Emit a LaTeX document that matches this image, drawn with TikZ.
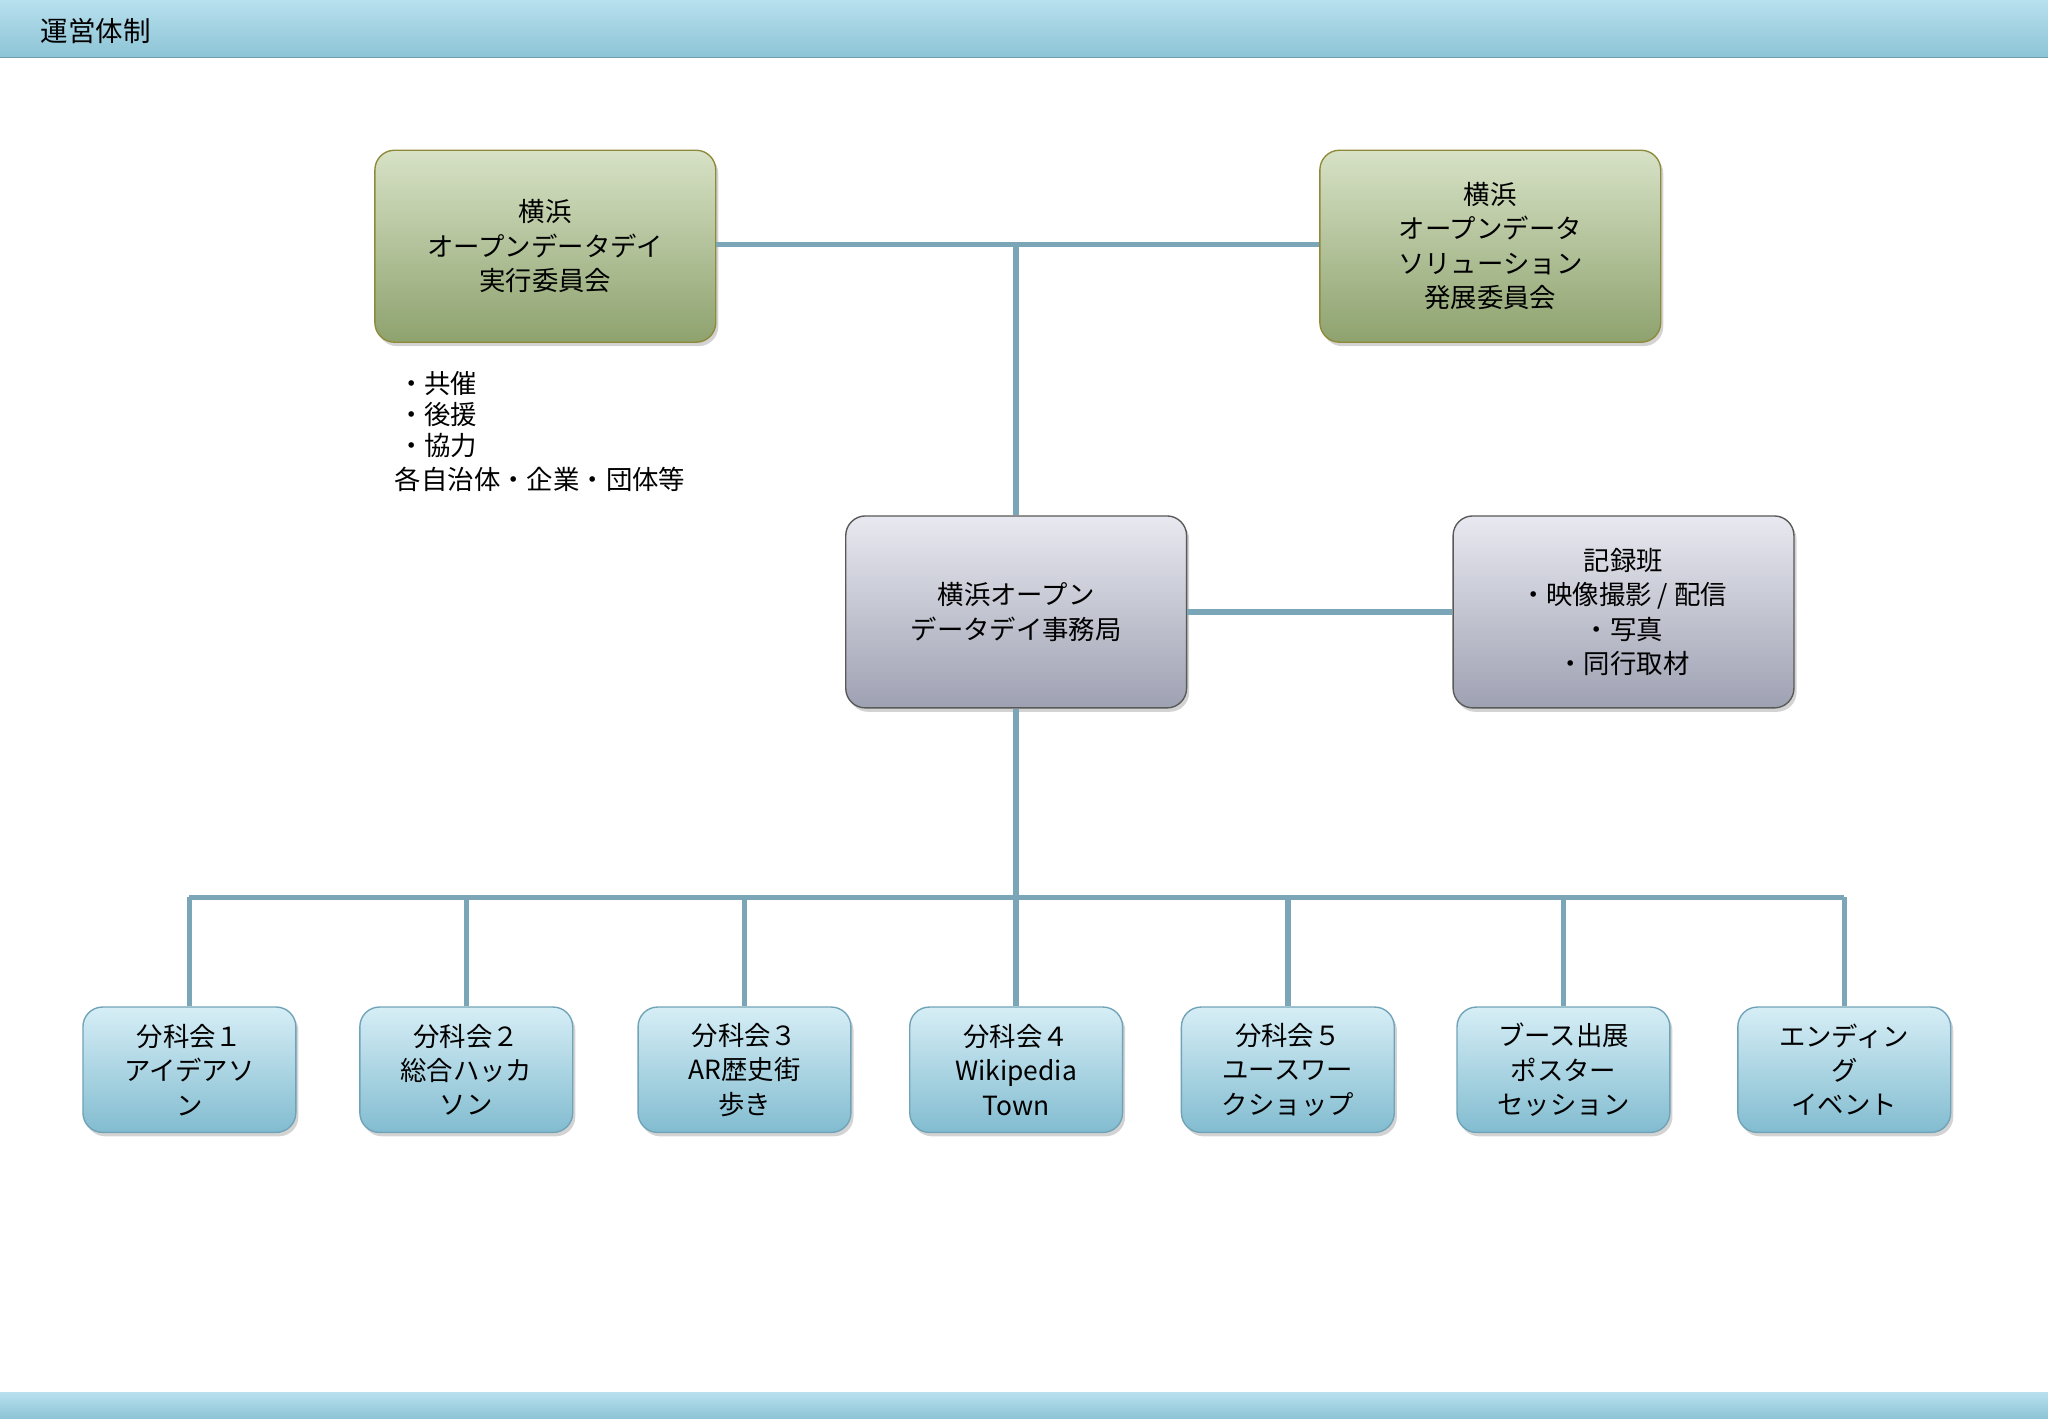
\documentclass[tikz,border=0pt]{standalone}
\usepackage{fontspec}
\setmainfont{Noto Sans CJK JP}
\usetikzlibrary{shadows,calc}
\definecolor{ln}{HTML}{7AA6B8}
\definecolor{barT}{HTML}{B8E0EE}
\definecolor{barB}{HTML}{8CC4D6}
\tikzset{
 x=0.02cm,y=-0.02cm,
 box/.style={draw=#1!70!black, line width=0.6pt, rounded corners=0.3cm, align=center, inner sep=0pt,
   font=\fontsize{11.5}{15}\selectfont, drop shadow={shadow xshift=0.04cm,shadow yshift=-0.06cm,opacity=0.35}},
 gbox/.style={box=gray, top color=green!2!white!85!olive!30, bottom color=olive!60!green!40!gray!90,
   minimum width=5.22cm, minimum height=2.94cm, draw=olive!60!gray},
 ybox/.style={box=gray, top color=gray!10, bottom color=gray!70!blue!60, minimum width=5.22cm, minimum height=2.94cm},
 bbox/.style={box=cyan, top color=cyan!10!white, bottom color=cyan!50!gray!70, minimum width=3.26cm, minimum height=1.92cm, draw=cyan!40!gray},
 con/.style={draw=ln, line width=2.4pt},
}
\begin{document}
\begin{tikzpicture}
\useasboundingbox (0,0) rectangle (1568,1086);
\shade[top color=barT,bottom color=barB] (0,0) rectangle (1568,44);
\draw[barB!80!black,line width=0.5pt] (0,44)--(1568,44);
\node[anchor=west,font=\fontsize{12}{14}\selectfont] (title) at (25,24) {運営体制};
\shade[top color=barT,bottom color=barB] (0,1066) rectangle (1568,1086);

\node[gbox,top color={rgb,255:red,215;green,226;blue,198},bottom color={rgb,255:red,142;green,162;blue,110}] (g1) at (417.5,188.5) {横浜\\オープンデータデイ\\実行委員会};
\node[gbox,top color={rgb,255:red,215;green,226;blue,198},bottom color={rgb,255:red,142;green,162;blue,110}] (g2) at (1141,188.5) {横浜\\オープンデータ\\ソリューション\\発展委員会};
\node[ybox,top color={rgb,255:red,232;green,233;blue,240},bottom color={rgb,255:red,158;green,161;blue,178}] (s1) at (778,468.5) {横浜オープン\\データデイ事務局};
\node[ybox,top color={rgb,255:red,232;green,233;blue,240},bottom color={rgb,255:red,158;green,161;blue,178}] (s2) at (1243,468.5) {記録班\\・映像撮影 / 配信\\・写真\\・同行取材};

\node[anchor=north west,align=left,font=\fontsize{11.5}{14}\selectfont,inner sep=0pt] (list) at (302,284) {\hspace{0.05cm}・共催\\[-0.5pt]\hspace{0.05cm}・後援\\[-0.5pt]\hspace{0.05cm}・協力\\[1pt]各自治体・企業・団体等};

\foreach \n/\x/\t in {b1/145/{分科会１\\アイデアソ\\ン}, b2/357/{分科会２\\総合ハッカ\\ソン}, b3/570/{分科会３\\AR歴史街\\歩き}, b4/778/{分科会４\\Wikipedia\\Town}, b5/986/{分科会５\\ユースワー\\クショップ}, b6/1197/{ブース出展\\ポスター\\セッション}, b7/1412/{エンディン\\グ\\イベント}}
  \node[bbox,top color={rgb,255:red,214;green,238;blue,246},bottom color={rgb,255:red,130;green,188;blue,208}] (\n) at (\x,819) {\t};

\coordinate (j1) at (778,187);
\coordinate (j2) at (778,687);
\coordinate (hl) at (145,687);
\coordinate (hr) at (1412,687);
\draw[con] (g1.east|-j1) -- (g2.west|-j1);
\draw[con] (j1) -- (s1.north);
\draw[con] (s1.east) -- (s2.west);
\draw[con] (s1.south) -- (j2);
\draw[con] (hl) -- (hr);
\foreach \n in {b1,b2,b3,b4,b5,b6,b7} \draw[con] (\n.north|-j2) -- (\n.north);
\end{tikzpicture}
\end{document}
